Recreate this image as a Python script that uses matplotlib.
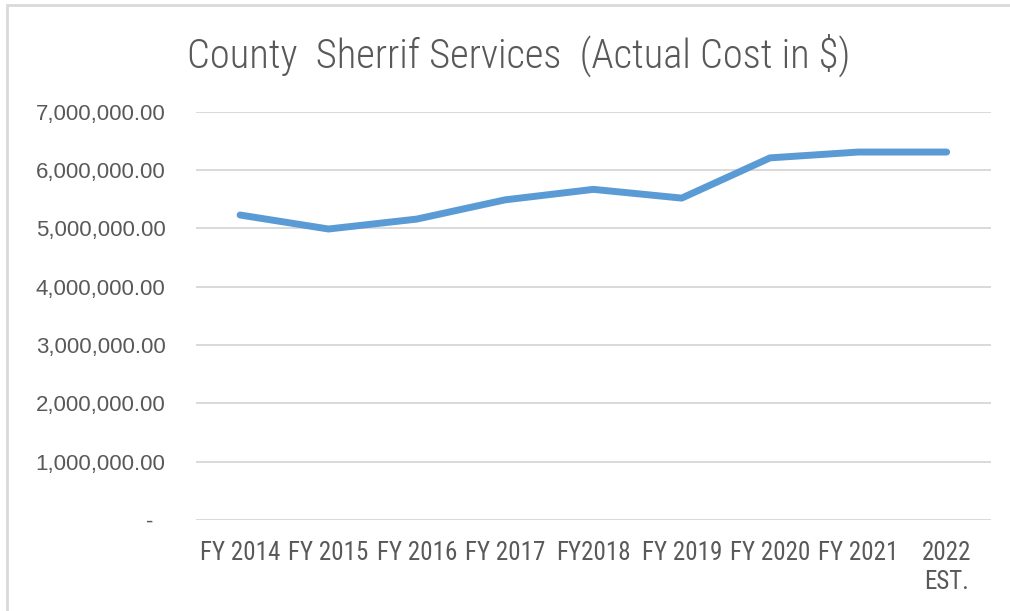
import matplotlib
matplotlib.use("Agg")
import matplotlib.pyplot as plt
from matplotlib import font_manager
from matplotlib.patches import Rectangle
from matplotlib.ticker import FuncFormatter, MultipleLocator

YEARS = ["FY 2014", "FY 2015", "FY 2016", "FY 2017", "FY2018",
         "FY 2019", "FY 2020", "FY 2021", "2022\nEST."]
COST = [5230000, 4990000, 5160000, 5490000, 5670000,
        5520000, 6210000, 6310000, 6310000]

TITLE = "County  Sherrif Services  (Actual Cost in $)"

TEXT = "#595959"
GRID = "#d9d9d9"
LINE = "#5b9bd5"

# prefer a condensed face for the category labels and title
available = {f.name for f in font_manager.fontManager.ttflist}
narrow, narrow_size, title_size = "Liberation Sans", 16.5, 25
for name, size, tsize in [("Liberation Sans Narrow", 19, 29.5), ("Roboto Condensed", 18, 29.2),
                          ("Open Sans Condensed", 18, 29.2), ("DejaVu Sans Condensed", 16, 24)]:
    if name in available:
        narrow, narrow_size, title_size = name, size, tsize
        break


def money(v, pos):
    if v == 0:
        return "-  "
    return f"{v:,.2f}"


fig = plt.figure(figsize=(10.10, 6.11), dpi=100)
ax = fig.add_axes([0.194, 0.149, 0.787, 0.668])

x = list(range(len(YEARS)))
ax.plot(x, COST, color=LINE, lw=5, solid_capstyle="round", solid_joinstyle="round", zorder=3)

ax.set_xlim(-0.5, len(YEARS) - 0.5)
ax.set_ylim(0, 7000000)
ax.yaxis.set_major_locator(MultipleLocator(1000000))
ax.yaxis.set_major_formatter(FuncFormatter(money))
ax.set_xticks(x)
ax.set_xticklabels(YEARS)

ax.grid(axis="y", color=GRID, lw=1.4)
ax.set_axisbelow(True)
for s in ax.spines.values():
    s.set_visible(False)
ax.tick_params(length=0)
ax.tick_params(axis="y", pad=22, labelsize=16, labelcolor=TEXT)
ax.tick_params(axis="x", pad=15, labelsize=narrow_size, labelcolor=TEXT)
for lab in ax.get_yticklabels():
    lab.set_fontfamily("Liberation Sans")
for lab in ax.get_xticklabels():
    lab.set_fontfamily(narrow)
    lab.set_linespacing(1.3)

fig.text(0.514, 0.91, TITLE, ha="center", va="center", fontsize=title_size,
         color=TEXT, family=narrow, fontweight="light")

# thin frame around the chart area
fig.patches.append(Rectangle((7 / 1010, -0.05), 1.1, 1 - 5 / 611 + 0.05,
                             transform=fig.transFigure, fill=False,
                             edgecolor=GRID, lw=2))

fig.savefig("out.png", dpi=100)
